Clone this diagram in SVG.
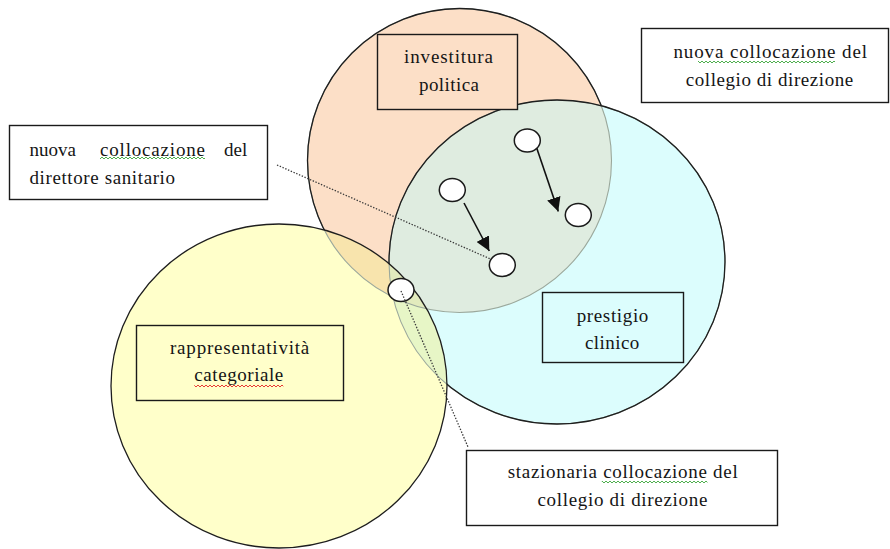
<svg xmlns="http://www.w3.org/2000/svg" width="890" height="549" viewBox="0 0 890 549">
<style>
text{font-family:'Liberation Serif','DejaVu Serif',serif;font-size:19px;fill:#151515}
.box{stroke:#1a1a1a;stroke-width:1.4}
.edge{fill:none;stroke:#1e1e1e;stroke-width:1.3}
.faint{fill:none;stroke:#9ba89c;stroke-width:1.1}
.node{fill:#ffffff;stroke:#1a1a1a;stroke-width:1.5}
.arrow{stroke:#111;stroke-width:1.6;fill:none}
.dot{stroke:#3a3a3a;stroke-width:1.3;stroke-dasharray:1.4 1.6;fill:none}
</style>
<defs>
<clipPath id="clipO"><circle cx="459.5" cy="160.5" r="152"/></clipPath>
<clipPath id="clipC"><ellipse cx="557" cy="262" rx="168" ry="162"/></clipPath>
<mask id="maskO" maskUnits="userSpaceOnUse" x="0" y="0" width="890" height="549">
<rect width="890" height="549" fill="#fff"/>
<ellipse cx="557" cy="262" rx="168" ry="162" fill="#000"/>
<ellipse cx="279" cy="386" rx="168" ry="162" fill="#000"/>
</mask>
<mask id="maskC" maskUnits="userSpaceOnUse" x="0" y="0" width="890" height="549">
<rect width="890" height="549" fill="#fff"/>
<ellipse cx="279" cy="386" rx="168" ry="162" fill="#000"/>
</mask>
<marker id="ah" markerUnits="userSpaceOnUse" markerWidth="14" markerHeight="14" viewBox="0 0 14 14" refX="14" refY="7" orient="auto">
<path d="M0,0 L14,7 L0,14 Z" fill="#111"/>
</marker>
<pattern id="wavyG" patternUnits="userSpaceOnUse" x="0" y="0" width="4" height="4">
<path d="M0,3 L2,1 L4,3" fill="none" stroke="#3aa63a" stroke-width="0.9"/>
</pattern>
<pattern id="wavyR" patternUnits="userSpaceOnUse" x="0" y="0" width="4" height="4">
<path d="M0,3 L2,1 L4,3" fill="none" stroke="#e52222" stroke-width="0.9"/>
</pattern>
</defs>

<rect width="890" height="549" fill="#ffffff"/>

<g id="sets">
<g id="set-investitura-fill">
<circle cx="459.5" cy="160.5" r="152" fill="#fcdfc7"/>
</g>
<g id="set-prestigio-fill">
<ellipse cx="557" cy="262" rx="168" ry="162" fill="#dcfdfd"/>
<ellipse cx="557" cy="262" rx="168" ry="162" fill="#dfece0" clip-path="url(#clipO)"/>
</g>
<g id="set-rappresentativita-fill">
<ellipse cx="279" cy="386" rx="168" ry="162" fill="#ffffca"/>
<ellipse cx="279" cy="386" rx="168" ry="162" fill="#f8e4ad" clip-path="url(#clipO)"/>
<ellipse cx="279" cy="386" rx="168" ry="162" fill="#e7f6c6" clip-path="url(#clipC)"/>
<g clip-path="url(#clipO)">
<ellipse cx="279" cy="386" rx="168" ry="162" fill="#e2ebbd" clip-path="url(#clipC)"/>
</g>
</g>
<g id="set-outlines">
<circle cx="459.5" cy="160.5" r="152" class="faint"/>
<circle cx="459.5" cy="160.5" r="152" class="edge" mask="url(#maskO)"/>
<ellipse cx="557" cy="262" rx="168" ry="162" class="faint"/>
<ellipse cx="557" cy="262" rx="168" ry="162" class="edge" mask="url(#maskC)"/>
<ellipse cx="279" cy="386" rx="168" ry="162" class="edge"/>
</g>
</g>

<g id="box-investitura">
<rect x="377.5" y="34.5" width="140" height="75" fill="#fcdfc7" class="box"/>
<text x="404" y="63" textLength="89" lengthAdjust="spacing">investitura</text>
<text x="419" y="90.5" textLength="60" lengthAdjust="spacing">politica</text>
</g>

<g id="box-nuova-direttore">
<rect x="9.5" y="125.5" width="258" height="74" fill="#ffffff" class="box"/>
<text y="156"><tspan x="29.5">nuova</tspan><tspan x="100" textLength="105" lengthAdjust="spacing">collocazione</tspan><tspan x="224">del</tspan></text>
<rect x="100" y="156" width="105" height="4" fill="url(#wavyG)"/>
<text x="29.5" y="183.5" textLength="145.5" lengthAdjust="spacing">direttore sanitario</text>
</g>

<g id="box-nuova-collegio">
<rect x="641.5" y="28.5" width="247" height="74" fill="#ffffff" class="box"/>
<text x="673.5" y="58.3" textLength="193.5" lengthAdjust="spacing">nuova collocazione del</text>
<rect x="698" y="60" width="137" height="4" fill="url(#wavyG)"/>
<text x="685.7" y="85.5" textLength="167.6" lengthAdjust="spacing">collegio di direzione</text>
</g>

<g id="box-prestigio">
<rect x="542.5" y="292.5" width="141" height="70" fill="#dcfdfd" class="box"/>
<text x="576.7" y="321.7" textLength="71.6" lengthAdjust="spacing">prestigio</text>
<text x="585" y="349" textLength="54.3" lengthAdjust="spacing">clinico</text>
</g>

<g id="box-rappresentativita">
<rect x="136.5" y="325.5" width="207" height="75" fill="#ffffca" class="box"/>
<text x="170" y="354.3" textLength="139.3" lengthAdjust="spacing">rappresentatività</text>
<text x="194.3" y="381" textLength="89" lengthAdjust="spacing">categoriale</text>
<rect x="194.3" y="384" width="89" height="4" fill="url(#wavyR)"/>
</g>

<g id="box-stazionaria">
<rect x="466.5" y="450.5" width="311" height="75" fill="#ffffff" class="box"/>
<text x="507.7" y="478.3" textLength="230" lengthAdjust="spacing">stazionaria collocazione del</text>
<rect x="601.8" y="480" width="105.6" height="4" fill="url(#wavyG)"/>
<text x="537.4" y="506" textLength="170" lengthAdjust="spacing">collegio di direzione</text>
</g>

<g id="connectors">
<line class="dot" x1="277" y1="165" x2="495" y2="261"/>
<line class="arrow" x1="535" y1="143" x2="558.3" y2="211.5" marker-end="url(#ah)"/>
<line class="arrow" x1="464" y1="203" x2="489.3" y2="251" marker-end="url(#ah)"/>
</g>

<g id="node-1"><ellipse class="node" cx="527.3" cy="140.5" rx="13" ry="11.5"/></g>
<g id="node-2"><ellipse class="node" cx="452.3" cy="190" rx="13" ry="11.5"/></g>
<g id="node-3"><ellipse class="node" cx="578.3" cy="215" rx="13" ry="11.5"/></g>
<g id="node-4"><ellipse class="node" cx="502.3" cy="265" rx="13" ry="11.5"/></g>
<g id="node-5"><ellipse class="node" cx="401" cy="290" rx="13" ry="11.5"/></g>

<g id="connector-stazionaria">
<line class="dot" x1="401" y1="291" x2="468" y2="447"/>
</g>
</svg>
